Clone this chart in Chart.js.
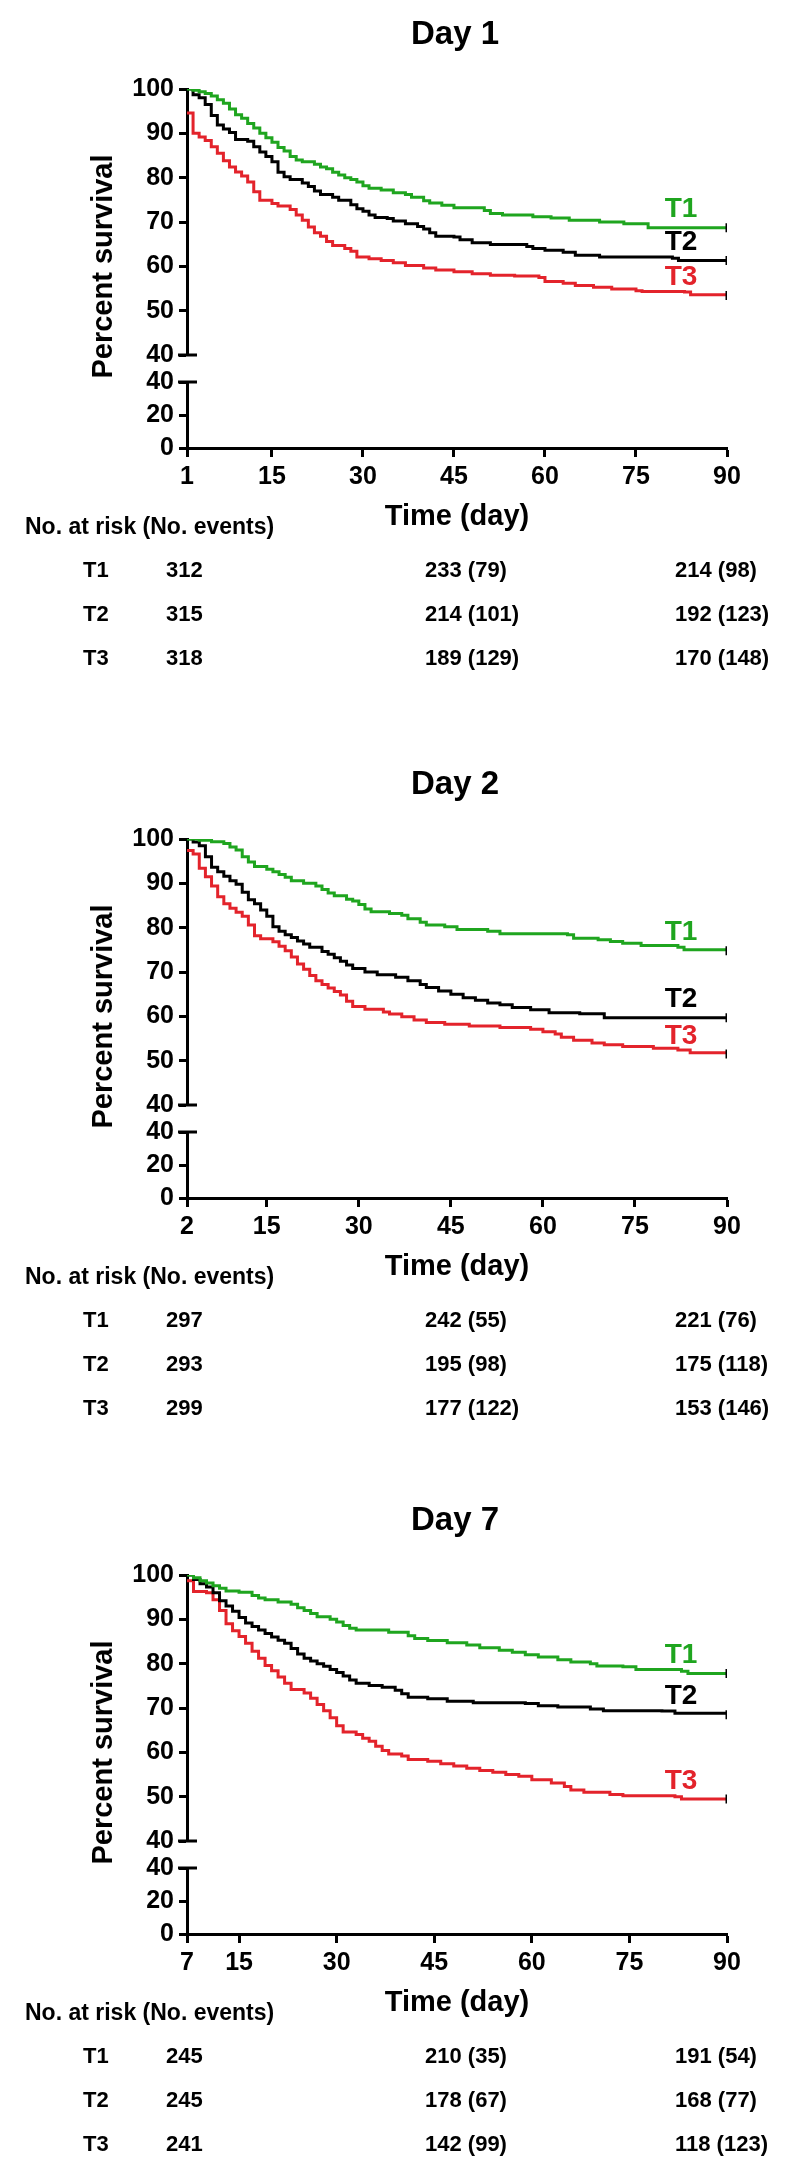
<!DOCTYPE html>
<html>
<head>
<meta charset="utf-8">
<script src="https://cdn.jsdelivr.net/npm/chart.js@4.4.1/dist/chart.umd.min.js"></script>
<style>
  body { margin: 0; background: #fff; }
  .panel { position: absolute; left: 0; width: 800px; }
</style>
</head>
<body>
<div class="panel" style="top:0"><canvas id="day1" width="800" height="750"></canvas></div>
<div class="panel" style="top:750px"><canvas id="day2" width="800" height="736"></canvas></div>
<div class="panel" style="top:1486px"><canvas id="day7" width="800" height="694"></canvas></div>
<script>
// survival steps: [day, percent survival]
const d1T1 = [[1,100],[2,99.7],[3,99.4],[4,99],[5,98.4],[6,97.6],[7,96.8],[8,95.5],[9,94.2],[10,93.4],[11,92.2],[12,91.2],[13,90],[14,89],[15,88],[16,86.8],[17,86],[18,84.8],[19,84],[20,83.6],[22,83],[23,82.4],[24,82],[25,81.2],[26,80.6],[27,80],[28,79.6],[29,79],[30,78.2],[31,77.6],[33,77.2],[35,76.6],[37,76.2],[38,75.6],[40,74.8],[41,74.3],[43,73.8],[45,73.2],[50,72.6],[51,71.9],[53,71.6],[58,71.2],[61,70.9],[64,70.4],[69,70],[73,69.6],[77,68.7],[90,68.7]];
const d1T2 = [[1,100],[2,98.7],[3,98],[4,96.5],[5,94],[6,91.9],[7,91],[8,90.2],[9,88.6],[11,88.2],[12,87],[13,85.8],[14,84.8],[15,83.6],[16,81.2],[17,80.2],[18,79.6],[20,78.8],[21,78],[22,77],[23,76.2],[25,75.6],[26,74.9],[28,73.9],[29,73],[30,72.4],[31,71.6],[32,71],[34,70.8],[35,70.2],[37,69.6],[39,69],[40,68.4],[41,67.6],[42,66.8],[45,66.6],[46,66],[48,65.3],[51,64.9],[57,64.5],[58,64],[60,63.6],[63,63.2],[65,62.5],[69,62.1],[81,61.8],[82,61.3],[90,61.3]];
const d1T3 = [[1,94.6],[2,90],[3,89.2],[4,88.4],[5,87],[6,85.5],[7,83.8],[8,82.4],[9,81.3],[10,80.4],[11,79],[12,76.8],[13,74.9],[15,74.2],[16,73.6],[18,72.8],[19,71.6],[20,70.4],[21,68.9],[22,67.6],[23,66.8],[24,65.6],[25,64.7],[27,64],[28,63.4],[29,62.1],[31,61.7],[33,61.3],[35,60.8],[37,60.2],[40,59.6],[42,59.2],[45,58.8],[48,58.3],[51,58],[55,57.8],[59,57.5],[60,56.6],[63,56.2],[65,55.7],[68,55.3],[71,54.9],[75,54.5],[76,54.3],[83,54.2],[84,53.6],[90,53.4]];

const d2T1 = [[2,100],[4,99.7],[6,99.4],[8,99],[9,98.2],[10,97.5],[11,96],[12,94.8],[13,93.8],[15,93.2],[16,92.6],[17,92],[18,91.4],[19,90.6],[21,90],[23,89.4],[24,88.6],[25,87.8],[26,87.2],[28,86.4],[29,86],[30,85.2],[31,84.2],[32,83.6],[35,83.2],[37,82.8],[38,82],[40,81.2],[41,80.6],[44,80.2],[46,79.6],[51,79.2],[53,78.6],[64,78.4],[65,77.6],[69,77.3],[71,76.9],[73,76.5],[76,76],[82,75.6],[83,75],[90,74.8]];
const d2T2 = [[2,100],[3,99.3],[4,98.5],[5,96],[6,93.6],[7,92.6],[8,91.6],[9,90.6],[10,89.8],[11,88],[12,86.3],[13,85.4],[14,84],[15,82.6],[16,80.2],[17,79.2],[18,78.4],[19,77.8],[20,77],[21,76.3],[22,75.6],[24,74.6],[25,74],[26,73.2],[27,72.4],[28,71.6],[29,70.8],[31,70],[33,69.4],[36,68.8],[38,68],[40,67.2],[41,66.5],[43,65.7],[45,65],[47,64.2],[49,63.6],[51,63],[53,62.6],[55,62],[58,61.5],[61,60.8],[66,60.6],[70,59.7],[90,59.7]];
const d2T3 = [[2,97.4],[3,96.6],[4,93.4],[5,91.5],[6,89.4],[7,87],[8,85.4],[9,84.4],[10,83.5],[11,82.6],[12,80.6],[13,78.2],[14,77.5],[16,76.8],[17,75.8],[18,74.8],[19,73.4],[20,71.8],[21,70.6],[22,69.2],[23,68],[24,67.2],[25,66.4],[26,65.6],[27,64.8],[28,63.4],[29,62.2],[31,61.6],[34,61],[35,60.5],[37,59.9],[39,59.2],[41,58.6],[44,58.2],[48,57.8],[53,57.5],[58,57.1],[60,56.5],[62,56],[63,55.3],[65,54.6],[68,54],[70,53.6],[73,53.2],[78,52.8],[82,52.4],[84,51.8],[90,51.5]];

const d7T1 = [[7,100],[8,99.4],[9,98.7],[10,98.2],[11,97.6],[12,97],[13,96.4],[15,96.1],[17,95.4],[18,94.8],[19,94.4],[21,93.9],[23,93.4],[24,92.6],[25,92],[26,91.3],[27,90.6],[29,90],[30,89.4],[31,88.6],[32,88],[33,87.6],[38,87.1],[41,86.3],[42,85.7],[44,85.2],[47,84.7],[50,84.2],[52,83.6],[55,83],[57,82.6],[59,82],[61,81.5],[64,80.9],[66,80.4],[69,80],[70,79.5],[74,79.3],[76,78.7],[83,78.3],[84,77.8],[90,77.8]];
const d7T2 = [[7,100],[8,99],[9,98],[10,97.3],[11,96],[12,94.2],[13,93],[14,91.8],[15,90.4],[16,89.2],[17,88.4],[18,87.6],[19,86.8],[20,86],[21,85.3],[22,84.6],[23,83.4],[24,82.2],[25,81.2],[26,80.6],[27,80],[28,79.4],[29,78.7],[30,78],[31,77.2],[32,76.3],[33,75.6],[35,75.1],[37,74.7],[39,74],[40,73.2],[41,72.4],[44,72.1],[47,71.5],[51,71.2],[59,71],[61,70.5],[64,70.2],[69,69.8],[71,69.4],[80,69.3],[82,68.8],[90,68.5]];
const d7T3 = [[7,98.7],[8,96.3],[10,96],[11,94.4],[12,92],[13,89],[14,87.4],[15,86.1],[16,84.6],[17,82.8],[18,81.2],[19,79.6],[20,78.4],[21,77],[22,75.6],[23,74.2],[25,73.4],[26,72.2],[27,70.8],[28,69.4],[29,67.8],[30,66],[31,64.6],[33,64],[34,63.2],[35,62.5],[36,61.4],[37,60.4],[38,59.6],[40,59.2],[41,58.4],[44,58],[46,57.4],[48,56.9],[50,56.4],[52,55.9],[54,55.5],[56,55],[58,54.6],[60,53.8],[63,53.1],[65,52.3],[66,51.5],[68,51],[72,50.5],[74,50.2],[82,50],[83,49.5],[90,49.5]];

const d1Ticks = [1, 15, 30, 45, 60, 75, 90];
const d2Ticks = [2, 15, 30, 45, 60, 75, 90];
const d7Ticks = [7, 15, 30, 45, 60, 75, 90];

// no. at risk (no. events), rows T1..T3
const d1Risk = [['312', '233 (79)', '214 (98)'], ['315', '214 (101)', '192 (123)'], ['318', '189 (129)', '170 (148)']];
const d2Risk = [['297', '242 (55)', '221 (76)'], ['293', '195 (98)', '175 (118)'], ['299', '177 (122)', '153 (146)']];
const d7Risk = [['245', '210 (35)', '191 (54)'], ['245', '178 (67)', '168 (77)'], ['241', '142 (99)', '118 (123)']];

const groups = ['T1', 'T2', 'T3'];
const colors = ['#1fa51f', '#000000', '#e3232b'];
const FONT = "'Liberation Sans', Arial, Helvetica, sans-serif";

const extras = {
  id: 'extras',
  afterDraw(chart, args, opts) {
    const { ctx, chartArea: a, scales } = chart;
    ctx.save();
    ctx.fillStyle = '#000';
    ctx.textBaseline = 'middle';

    ctx.font = `bold 33px ${FONT}`;
    ctx.textAlign = 'center';
    ctx.fillText(opts.title, (a.left + a.right) / 2 - 2, 35);

    // end caps of the broken y axis
    ctx.strokeStyle = '#000';
    ctx.lineWidth = 3;
    [scales.yTop, scales.yLow].forEach(s => {
      const y = s.getPixelForValue(40);
      ctx.beginPath();
      ctx.moveTo(a.left - 9, y);
      ctx.lineTo(a.left + 10, y);
      ctx.stroke();
    });

    ctx.save();
    ctx.translate(104, (a.top + a.bottom) / 2 - 2);
    ctx.rotate(-Math.PI / 2);
    ctx.font = `bold 29px ${FONT}`;
    ctx.fillText('Percent survival', 0, 0);
    ctx.restore();

    ctx.font = `bold 28px ${FONT}`;
    chart.data.datasets.forEach((ds, i) => {
      const last = ds.data[ds.data.length - 1];
      ctx.fillStyle = colors[i];
      ctx.fillText(ds.label, a.right - 46, scales.yTop.getPixelForValue(last.y) - 18);
    });

    ctx.fillStyle = '#000';
    ctx.textAlign = 'left';
    ctx.font = `bold 23px ${FONT}`;
    ctx.fillText('No. at risk (No. events)', 25, 528);
    ctx.font = `bold 22px ${FONT}`;
    const rowY = [571, 615, 659];
    const colX = [166, 425, 675];
    opts.risk.forEach((row, i) => {
      ctx.fillText(groups[i], 83, rowY[i]);
      row.forEach((txt, j) => ctx.fillText(txt, colX[j], rowY[i]));
    });
    ctx.restore();
  }
};

function tickFont(size) {
  return { family: FONT, size: size, weight: 'bold', lineHeight: 1 };
}

function yTicks(step) {
  return { color: '#000', font: tickFont(25), padding: 5, stepSize: step, autoSkip: false };
}

function yAxis(extra) {
  return Object.assign({
    type: 'linear',
    position: 'left',
    stack: 'y',
    grid: { drawOnChartArea: false, tickLength: 8, tickWidth: 3, tickColor: '#000' },
    border: { color: '#000', width: 3 },
    afterFit: s => { s.width = 187; }
  }, extra);
}

function drawPanel(id, title, series, xTicks, risk) {
  const canvas = document.getElementById(id);
  new Chart(canvas, {
    type: 'line',
    data: {
      datasets: series.map((s, i) => ({
        label: groups[i],
        data: s.map(([x, y]) => ({ x, y })),
        borderColor: colors[i],
        borderWidth: 3,
        stepped: true,
        fill: false,
        pointStyle: 'line',
        rotation: 90,
        pointRadius: c => (c.dataIndex === s.length - 1 ? 4.5 : 0),
        pointBorderColor: '#000',
        pointBorderWidth: 3,
        xAxisID: 'x',
        yAxisID: 'yTop'
      }))
    },
    options: {
      responsive: false,
      animation: false,
      devicePixelRatio: 1,
      layout: { padding: { top: 89, left: 0, right: 73, bottom: canvas.height - 448 - 90 } },
      plugins: {
        legend: { display: false },
        tooltip: { enabled: false },
        extras: { title: title, risk: risk }
      },
      scales: {
        x: {
          type: 'linear',
          min: xTicks[0],
          max: 90,
          afterBuildTicks: s => { s.ticks = xTicks.map(v => ({ value: v })); },
          grid: { drawOnChartArea: false, tickLength: 9, tickWidth: 3, tickColor: '#000' },
          border: { color: '#000', width: 3 },
          ticks: { color: '#000', font: tickFont(25), padding: 8, maxRotation: 0, autoSkip: false },
          title: {
            display: true,
            text: 'Time (day)',
            color: '#000',
            font: { family: FONT, size: 29, weight: 'bold', lineHeight: 1.2 },
            padding: { top: 0, bottom: 4 }
          },
          afterFit: s => { s.height = 90; }
        },
        yTop: yAxis({ min: 40, max: 100, stackWeight: 266, weight: 3, ticks: yTicks(10) }),
        yGap: yAxis({ min: 0, max: 1, stackWeight: 27, weight: 2, grid: { display: false }, border: { display: false }, ticks: { display: false } }),
        yLow: yAxis({ min: 0, max: 40, stackWeight: 66, weight: 1, ticks: yTicks(20) })
      }
    },
    plugins: [extras]
  });
}

drawPanel('day1', 'Day 1', [d1T1, d1T2, d1T3], d1Ticks, d1Risk);
drawPanel('day2', 'Day 2', [d2T1, d2T2, d2T3], d2Ticks, d2Risk);
drawPanel('day7', 'Day 7', [d7T1, d7T2, d7T3], d7Ticks, d7Risk);
</script>
</body>
</html>
